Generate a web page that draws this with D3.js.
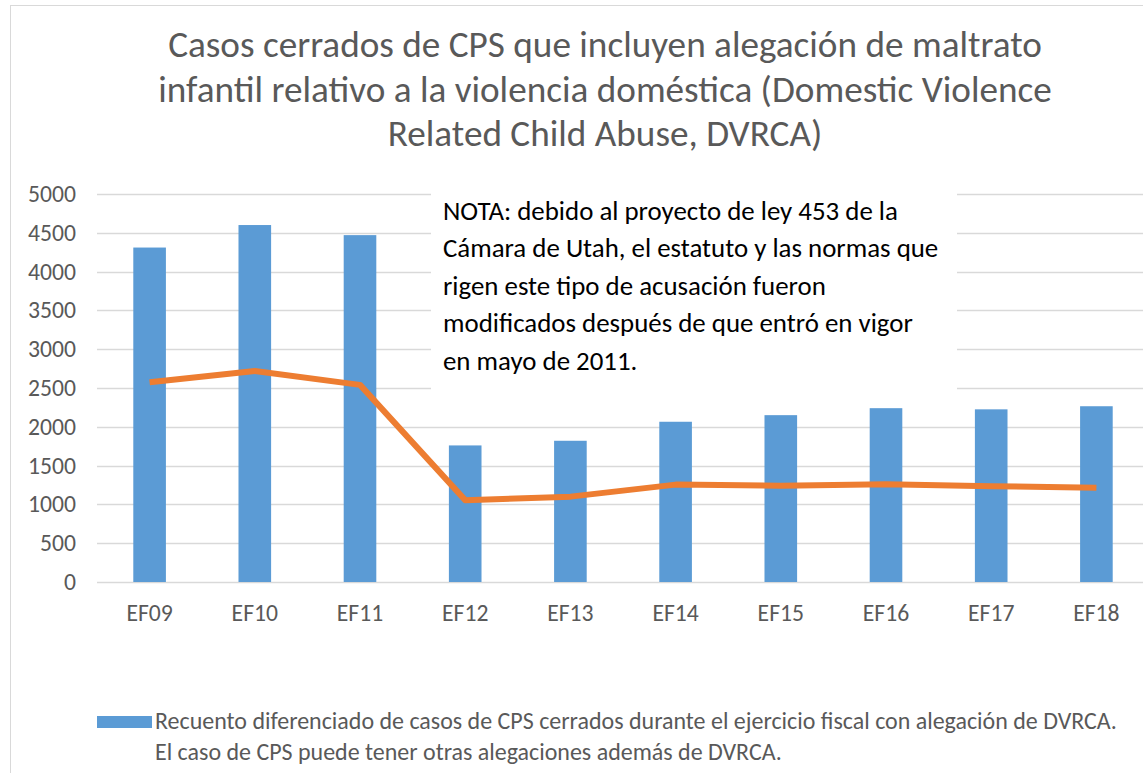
<!DOCTYPE html>
<html>
<head>
<meta charset="utf-8">
<script src="https://cdn.jsdelivr.net/npm/d3@7"></script>
<style>
  html, body { margin: 0; padding: 0; background: #fff; }
  svg { display: block; }
</style>
</head>
<body>
<div id="chart"></div>
<script>
// fiscal years on the x axis
const categories = ["EF09", "EF10", "EF11", "EF12", "EF13", "EF14", "EF15", "EF16", "EF17", "EF18"];
// bars: closed CPS cases with DVRCA allegation
const closedCases = [4310, 4600, 4470, 1760, 1820, 2065, 2150, 2240, 2225, 2265];
// orange line (no legend entry in the original)
const lineValues = [2575, 2720, 2540, 1055, 1100, 1255, 1240, 1260, 1235, 1215];
const yTicks = [0, 500, 1000, 1500, 2000, 2500, 3000, 3500, 4000, 4500, 5000];

const titleLines = [
    "Casos cerrados de CPS que incluyen alegación de maltrato",
    "infantil relativo a la violencia doméstica (Domestic Violence",
    "Related Child Abuse, DVRCA)"
];
const noteLines = [
    "NOTA: debido al proyecto de ley 453 de la",
    "Cámara de Utah, el estatuto y las normas que",
    "rigen este tipo de acusación fueron",
    "modificados después de que entró en vigor",
    "en mayo de 2011."
];
const legendLines = [
    "Recuento diferenciado de casos de CPS cerrados durante el ejercicio fiscal con alegación de DVRCA.",
    "El caso de CPS puede tener otras alegaciones además de DVRCA."
];

const width = 1143;
const height = 773;
const font = "Carlito, 'Liberation Sans Narrow', 'Open Sans', sans-serif";
const grey = "#595959";

const svg = d3.select("#chart")
    .append("svg")
    .attr("width", width)
    .attr("height", height)
    .style("font-family", font);

// chart frame
svg.append("rect")
    .attr("x", 10.5)
    .attr("y", 5.5)
    .attr("width", width)
    .attr("height", height)
    .attr("fill", "#fff")
    .attr("stroke", "#d9d9d9");

// shrink/grow a text's font so it spans a given width
function fitWidth(sel, target) {
    const node = sel.node();
    const size = parseFloat(sel.style("font-size"));
    const w = node.getComputedTextLength();
    sel.style("font-size", (size * target / w) + "px");
    return size * target / w;
}

const xScale = d3.scaleBand()
    .domain(categories)
    .range([97, 1149])
    .paddingInner(0.69)
    .paddingOuter(0.345);

const yScale = d3.scaleLinear()
    .domain([0, 5000])
    .range([582, 194]);

// gridlines
svg.append("g")
    .selectAll("line")
    .data(yTicks)
    .enter()
    .append("line")
    .attr("x1", 97)
    .attr("x2", 1149)
    .attr("y1", d => Math.round(yScale(d)) + 0.5)
    .attr("y2", d => Math.round(yScale(d)) + 0.5)
    .attr("stroke", "#d9d9d9")
    .attr("stroke-width", 1.5);

// y axis labels
const yAxis = d3.axisLeft(yScale)
    .tickValues(yTicks)
    .tickFormat(d3.format("d"))
    .tickSize(0)
    .tickPadding(0);
const yG = svg.append("g")
    .attr("transform", "translate(76,0)")
    .call(yAxis);
yG.select(".domain").remove();
yG.selectAll("text")
    .style("font-family", font)
    .style("font-size", "18px")
    .attr("fill", grey);
const tickSize = fitWidth(yG.selectAll("text").filter(d => d === 5000), 48);
yG.selectAll("text").style("font-size", tickSize + "px");

// x axis labels
const xAxis = d3.axisBottom(xScale).tickSize(0).tickPadding(0);
const xG = svg.append("g")
    .attr("transform", "translate(0,604)")
    .call(xAxis);
xG.select(".domain").remove();
xG.selectAll("text")
    .style("font-family", font)
    .style("font-size", tickSize + "px")
    .attr("fill", grey);

// bars
svg.append("g")
    .selectAll(".bar")
    .data(closedCases)
    .enter()
    .append("rect")
    .attr("class", "bar")
    .attr("x", (d, i) => xScale(categories[i]))
    .attr("y", d => yScale(d))
    .attr("width", xScale.bandwidth())
    .attr("height", d => yScale(0) - yScale(d))
    .attr("fill", "#5b9bd5");

// orange line
const line = d3.line()
    .x((d, i) => xScale(categories[i]) + xScale.bandwidth() / 2)
    .y(d => yScale(d));
svg.append("path")
    .datum(lineValues)
    .attr("d", line)
    .attr("fill", "none")
    .attr("stroke", "#ed7d31")
    .attr("stroke-width", 6)
    .attr("stroke-linejoin", "round");

// note box
svg.append("rect")
    .attr("x", 431)
    .attr("y", 186)
    .attr("width", 526)
    .attr("height", 208)
    .attr("fill", "#fff");
const note = svg.append("g");
const noteText = note.selectAll("text")
    .data(noteLines)
    .enter()
    .append("text")
    .attr("x", 443)
    .attr("y", (d, i) => 220 + i * 37.4)
    .style("font-size", "20px")
    .attr("fill", "#000")
    .text(d => d);
const noteSize = fitWidth(noteText.filter((d, i) => i === 0), 455);
noteText.style("font-size", noteSize + "px");

// title
const title = svg.append("g").selectAll("text")
    .data(titleLines)
    .enter()
    .append("text")
    .attr("x", 605)
    .attr("y", (d, i) => 57 + i * 44.5)
    .attr("text-anchor", "middle")
    .style("font-size", "30px")
    .attr("fill", grey)
    .text(d => d);
const titleSize = fitWidth(title.filter((d, i) => i === 0), 874);
title.style("font-size", titleSize + "px");

// legend
svg.append("rect")
    .attr("x", 97)
    .attr("y", 716)
    .attr("width", 55)
    .attr("height", 12)
    .attr("fill", "#5b9bd5");
const legend = svg.append("g").selectAll("text")
    .data(legendLines)
    .enter()
    .append("text")
    .attr("x", 155)
    .attr("y", (d, i) => 729 + i * 31)
    .style("font-size", "18px")
    .attr("fill", grey)
    .text(d => d);
const legendSize = fitWidth(legend.filter((d, i) => i === 0), 962);
legend.style("font-size", legendSize + "px");
</script>
</body>
</html>
